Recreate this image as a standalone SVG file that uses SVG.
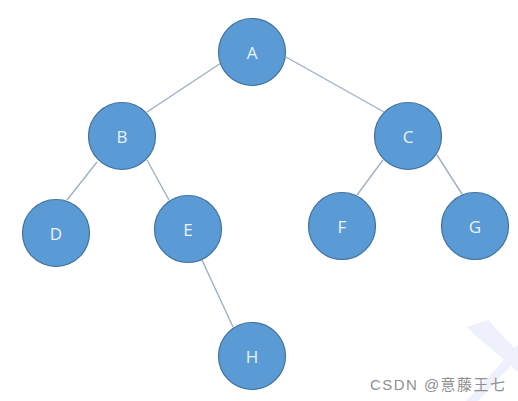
<svg xmlns="http://www.w3.org/2000/svg" width="518" height="401" viewBox="0 0 518 401">
<style>
.node circle{fill:#5b9bd5;stroke:#41719c;stroke-width:1.2}
.node text{font-family:"Open Sans","Liberation Sans",sans-serif;font-size:17px;fill:#eaf2fb;text-anchor:middle;dominant-baseline:central}
.edges line{stroke:#9fb0c4;stroke-width:1.4}
.wm{font-family:"Liberation Sans","Noto Sans CJK SC",sans-serif;font-size:15px;fill:#909090}
</style>
<rect width="518" height="401" fill="#ffffff"/>
<g id="watermark-shape" fill="#eef1fc">
<polygon points="466,327 488,320 518,352 518,372"/>
<polygon points="518,345 518,358 478,401 466,401"/>
</g>
<g class="edges" id="connectors">
<line x1="221" y1="63" x2="147" y2="112"/>
<line x1="286" y1="57" x2="384" y2="112"/>
<line x1="97" y1="162" x2="67" y2="200"/>
<line x1="147" y1="160" x2="169" y2="200"/>
<line x1="202" y1="260" x2="233" y2="327"/>
<line x1="383" y1="160" x2="357" y2="195"/>
<line x1="437" y1="155" x2="462" y2="194"/>
</g>
<g class="node" id="node-A"><circle cx="252" cy="52" r="33.5"/><text x="252" y="52">A</text></g>
<g class="node" id="node-B"><circle cx="122" cy="136" r="33.5"/><text x="122" y="136">B</text></g>
<g class="node" id="node-C"><circle cx="408" cy="136" r="33.5"/><text x="408" y="136">C</text></g>
<g class="node" id="node-D"><circle cx="56" cy="233" r="33.5"/><text x="56" y="233">D</text></g>
<g class="node" id="node-E"><circle cx="188" cy="229" r="33.5"/><text x="188" y="229">E</text></g>
<g class="node" id="node-F"><circle cx="342" cy="226" r="33.5"/><text x="342" y="226">F</text></g>
<g class="node" id="node-G"><circle cx="475" cy="226" r="33.5"/><text x="475" y="226">G</text></g>
<g class="node" id="node-H"><circle cx="252" cy="356" r="33.5"/><text x="252" y="356">H</text></g>
<text class="wm" x="370" y="390" textLength="135">CSDN @意藤王七</text>
</svg>
